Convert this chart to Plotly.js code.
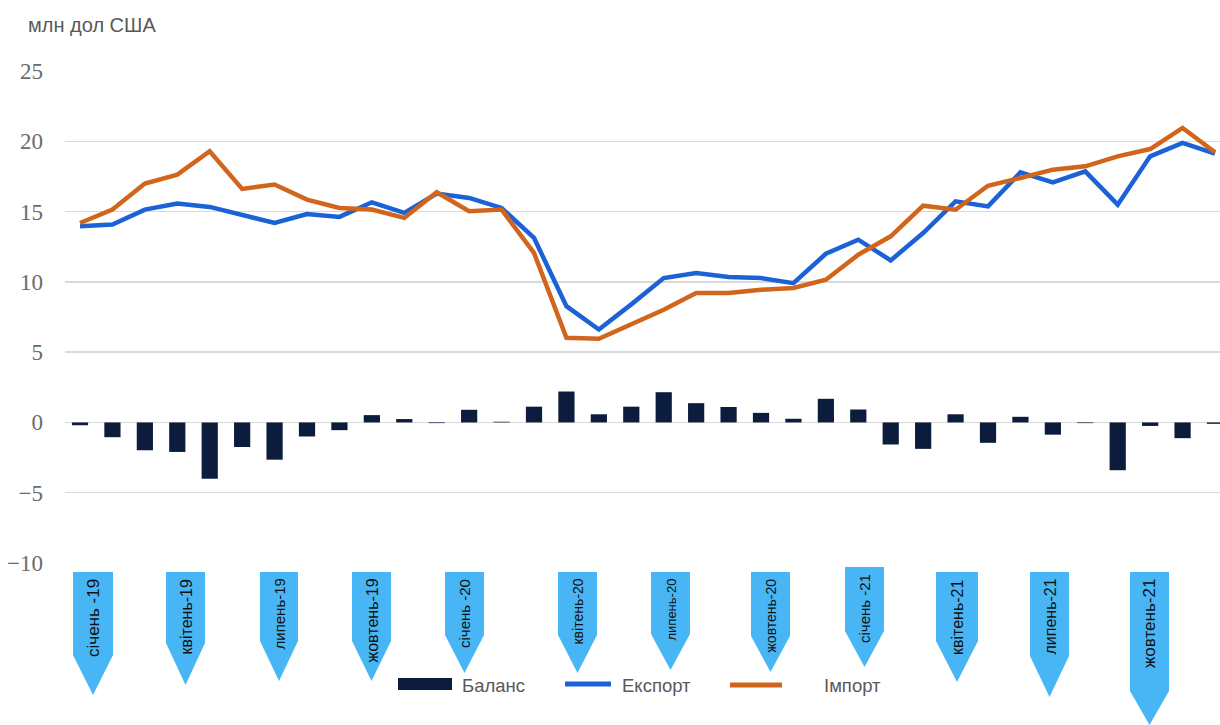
<!DOCTYPE html>
<html>
<head>
<meta charset="utf-8">
<script src="https://cdn.plot.ly/plotly-3.0.1.min.js"></script>
<style>html,body{margin:0;padding:0;background:#fff}#chart{width:1220px;height:725px}</style>
</head>
<body>
<div id="chart"></div>
<script>
// Months Jan 2019 .. Dec 2021
var months = [
  'січ-19','лют-19','бер-19','кві-19','тра-19','чер-19','лип-19','сер-19','вер-19','жов-19','лис-19','гру-19',
  'січ-20','лют-20','бер-20','кві-20','тра-20','чер-20','лип-20','сер-20','вер-20','жов-20','лис-20','гру-20',
  'січ-21','лют-21','бер-21','кві-21','тра-21','чер-21','лип-21','сер-21','вер-21','жов-21','лис-21','гру-21'
];
var exportVals = [13.96, 14.08, 15.14, 15.57, 15.33, 14.79, 14.19, 14.83, 14.62, 15.66, 14.91, 16.28,
  15.97, 15.26, 13.13, 8.27, 6.61, 8.4, 10.27, 10.62, 10.34, 10.27, 9.91, 12.0,
  13.0, 11.53, 13.47, 15.73, 15.37, 17.79, 17.08, 17.86, 15.49, 18.93, 19.88, 19.12];
var importVals = [14.19, 15.14, 16.99, 17.63, 19.29, 16.61, 16.92, 15.85, 15.26, 15.14, 14.55, 16.37,
  15.02, 15.14, 12.06, 6.02, 5.95, 6.95, 8.01, 9.2, 9.2, 9.44, 9.56, 10.15,
  11.93, 13.24, 15.42, 15.13, 16.84, 17.39, 17.98, 18.22, 18.93, 19.45, 20.95, 19.22];
var balanceVals = [-0.2, -1.05, -1.98, -2.1, -4.0, -1.75, -2.65, -1.0, -0.55, 0.52, 0.24, -0.05,
  0.9, 0.05, 1.12, 2.2, 0.58, 1.12, 2.15, 1.37, 1.1, 0.68, 0.26, 1.68,
  0.92, -1.57, -1.88, 0.58, -1.45, 0.4, -0.87, -0.05, -3.4, -0.25, -1.12, -0.1];
var seriesNames = ['Баланс', 'Експорт', 'Імпорт'];
var yTicks = [-10, -5, 0, 5, 10, 15, 20, 25];
var quarterLabels = ['січень -19','квітень-19','липень-19','жовтень-19','січень -20','квітень-20',
  'липень-20','жовтень-20','січень -21','квітень-21','липень-21','жовтень-21'];

// ---- layout geometry (pixels) ----
var W = 1220, H = 725, L = 65, R = 0, T = 71, B = 162;
var pw = W - L - R, ph = H - T - B;
function px(x){ return (x - L) / pw; }
function py(y){ return (H - B - y) / ph; }

// decorative arrow tags: [left, right, rectTop, rectBottom, tip, fontSize]
var tagGeom = [
  [73,113,572,655,695,17],[166,205,572,643,685,16],[260,298,572,641,681,15],[352,391,572,641,681,16],
  [445,484,572,635,673,15],[558,597,572,635,673,14],[651,690,572,634,670,13],[751,790,572,636,672,14],
  [845,884,567,631,667,15],[936,978,572,641,682,16],[1030,1069,572,656,697,16],[1130,1169,572,691,725,17]
];
var shapes = [], annotations = [];
var tagColor = '#48b6f4';
var sans = "'Liberation Sans', Arial, sans-serif";
tagGeom.forEach(function(g, i){
  var l = g[0], r = g[1], t = g[2], rb = g[3], tip = g[4], c = (l + r) / 2;
  shapes.push({type:'path', xref:'paper', yref:'paper', layer:'above',
    path:'M'+px(l)+','+py(t)+' L'+px(r)+','+py(t)+' L'+px(r)+','+py(rb)+' L'+px(c)+','+py(tip)+' L'+px(l)+','+py(rb)+' Z',
    fillcolor:tagColor, line:{width:0}});
  annotations.push({xref:'paper', yref:'paper', x:px(c), y:py(t+5), xanchor:'center', yanchor:'top',
    text:quarterLabels[i], textangle:-90, showarrow:false,
    font:{family:sans, size:g[5], color:'#111'}});
});

// custom legend
var legendText = {family:sans, size:18.5, color:'#595959'};
shapes.push({type:'rect', xref:'paper', yref:'paper', x0:px(398), x1:px(452), y0:py(690), y1:py(678),
  fillcolor:'#0b1c3d', line:{width:0}});
shapes.push({type:'line', xref:'paper', yref:'paper', x0:px(565), x1:px(611), y0:py(684), y1:py(684),
  line:{color:'#1a62d6', width:5}});
shapes.push({type:'line', xref:'paper', yref:'paper', x0:px(730), x1:px(782), y0:py(685), y1:py(685),
  line:{color:'#d2651c', width:5}});
[[460, seriesNames[0]], [620, seriesNames[1]], [822, seriesNames[2]]].forEach(function(a){
  annotations.push({xref:'paper', yref:'paper', x:px(a[0]), y:py(685), xanchor:'left', yanchor:'middle',
    text:a[1], showarrow:false, font:legendText});
});

var traces = [
  {type:'bar', name:seriesNames[0], x:months, y:balanceVals, width:0.5,
   marker:{color:'#0b1c3d'}, hoverinfo:'x+y'},
  {type:'scatter', mode:'lines', name:seriesNames[1], x:months, y:exportVals,
   line:{color:'#1a62d6', width:4.5}},
  {type:'scatter', mode:'lines', name:seriesNames[2], x:months, y:importVals,
   line:{color:'#d2651c', width:4.5}}
];

var layout = {
  width:W, height:H,
  margin:{l:L, r:R, t:T, b:B, pad:0},
  paper_bgcolor:'#fff', plot_bgcolor:'#fff',
  showlegend:false,
  title:{text:'млн дол США', xref:'container', yref:'container', x:28/W, xanchor:'left',
    y:1 - 25/H, yanchor:'middle',
    font:{family:sans, size:20, color:'#595959'}},
  xaxis:{type:'category', range:[-15/32.43, 35 + 5/32.43], showticklabels:false, showgrid:false,
    zeroline:false, showline:false, ticks:'', fixedrange:true},
  yaxis:{range:[-10, 25], tickvals:yTicks, showgrid:true, gridcolor:'#d9d9d9', gridwidth:1.5,
    zeroline:true, zerolinecolor:'#d9d9d9', zerolinewidth:1.5, showline:false, ticks:'',
    ticklabelstandoff:21,
    tickfont:{family:'Times New Roman', size:23, color:'#6b6b6b'}},
  shapes:shapes,
  annotations:annotations,
  bargap:0.5
};

Plotly.newPlot('chart', traces, layout, {displayModeBar:false, staticPlot:true});
</script>
</body>
</html>
